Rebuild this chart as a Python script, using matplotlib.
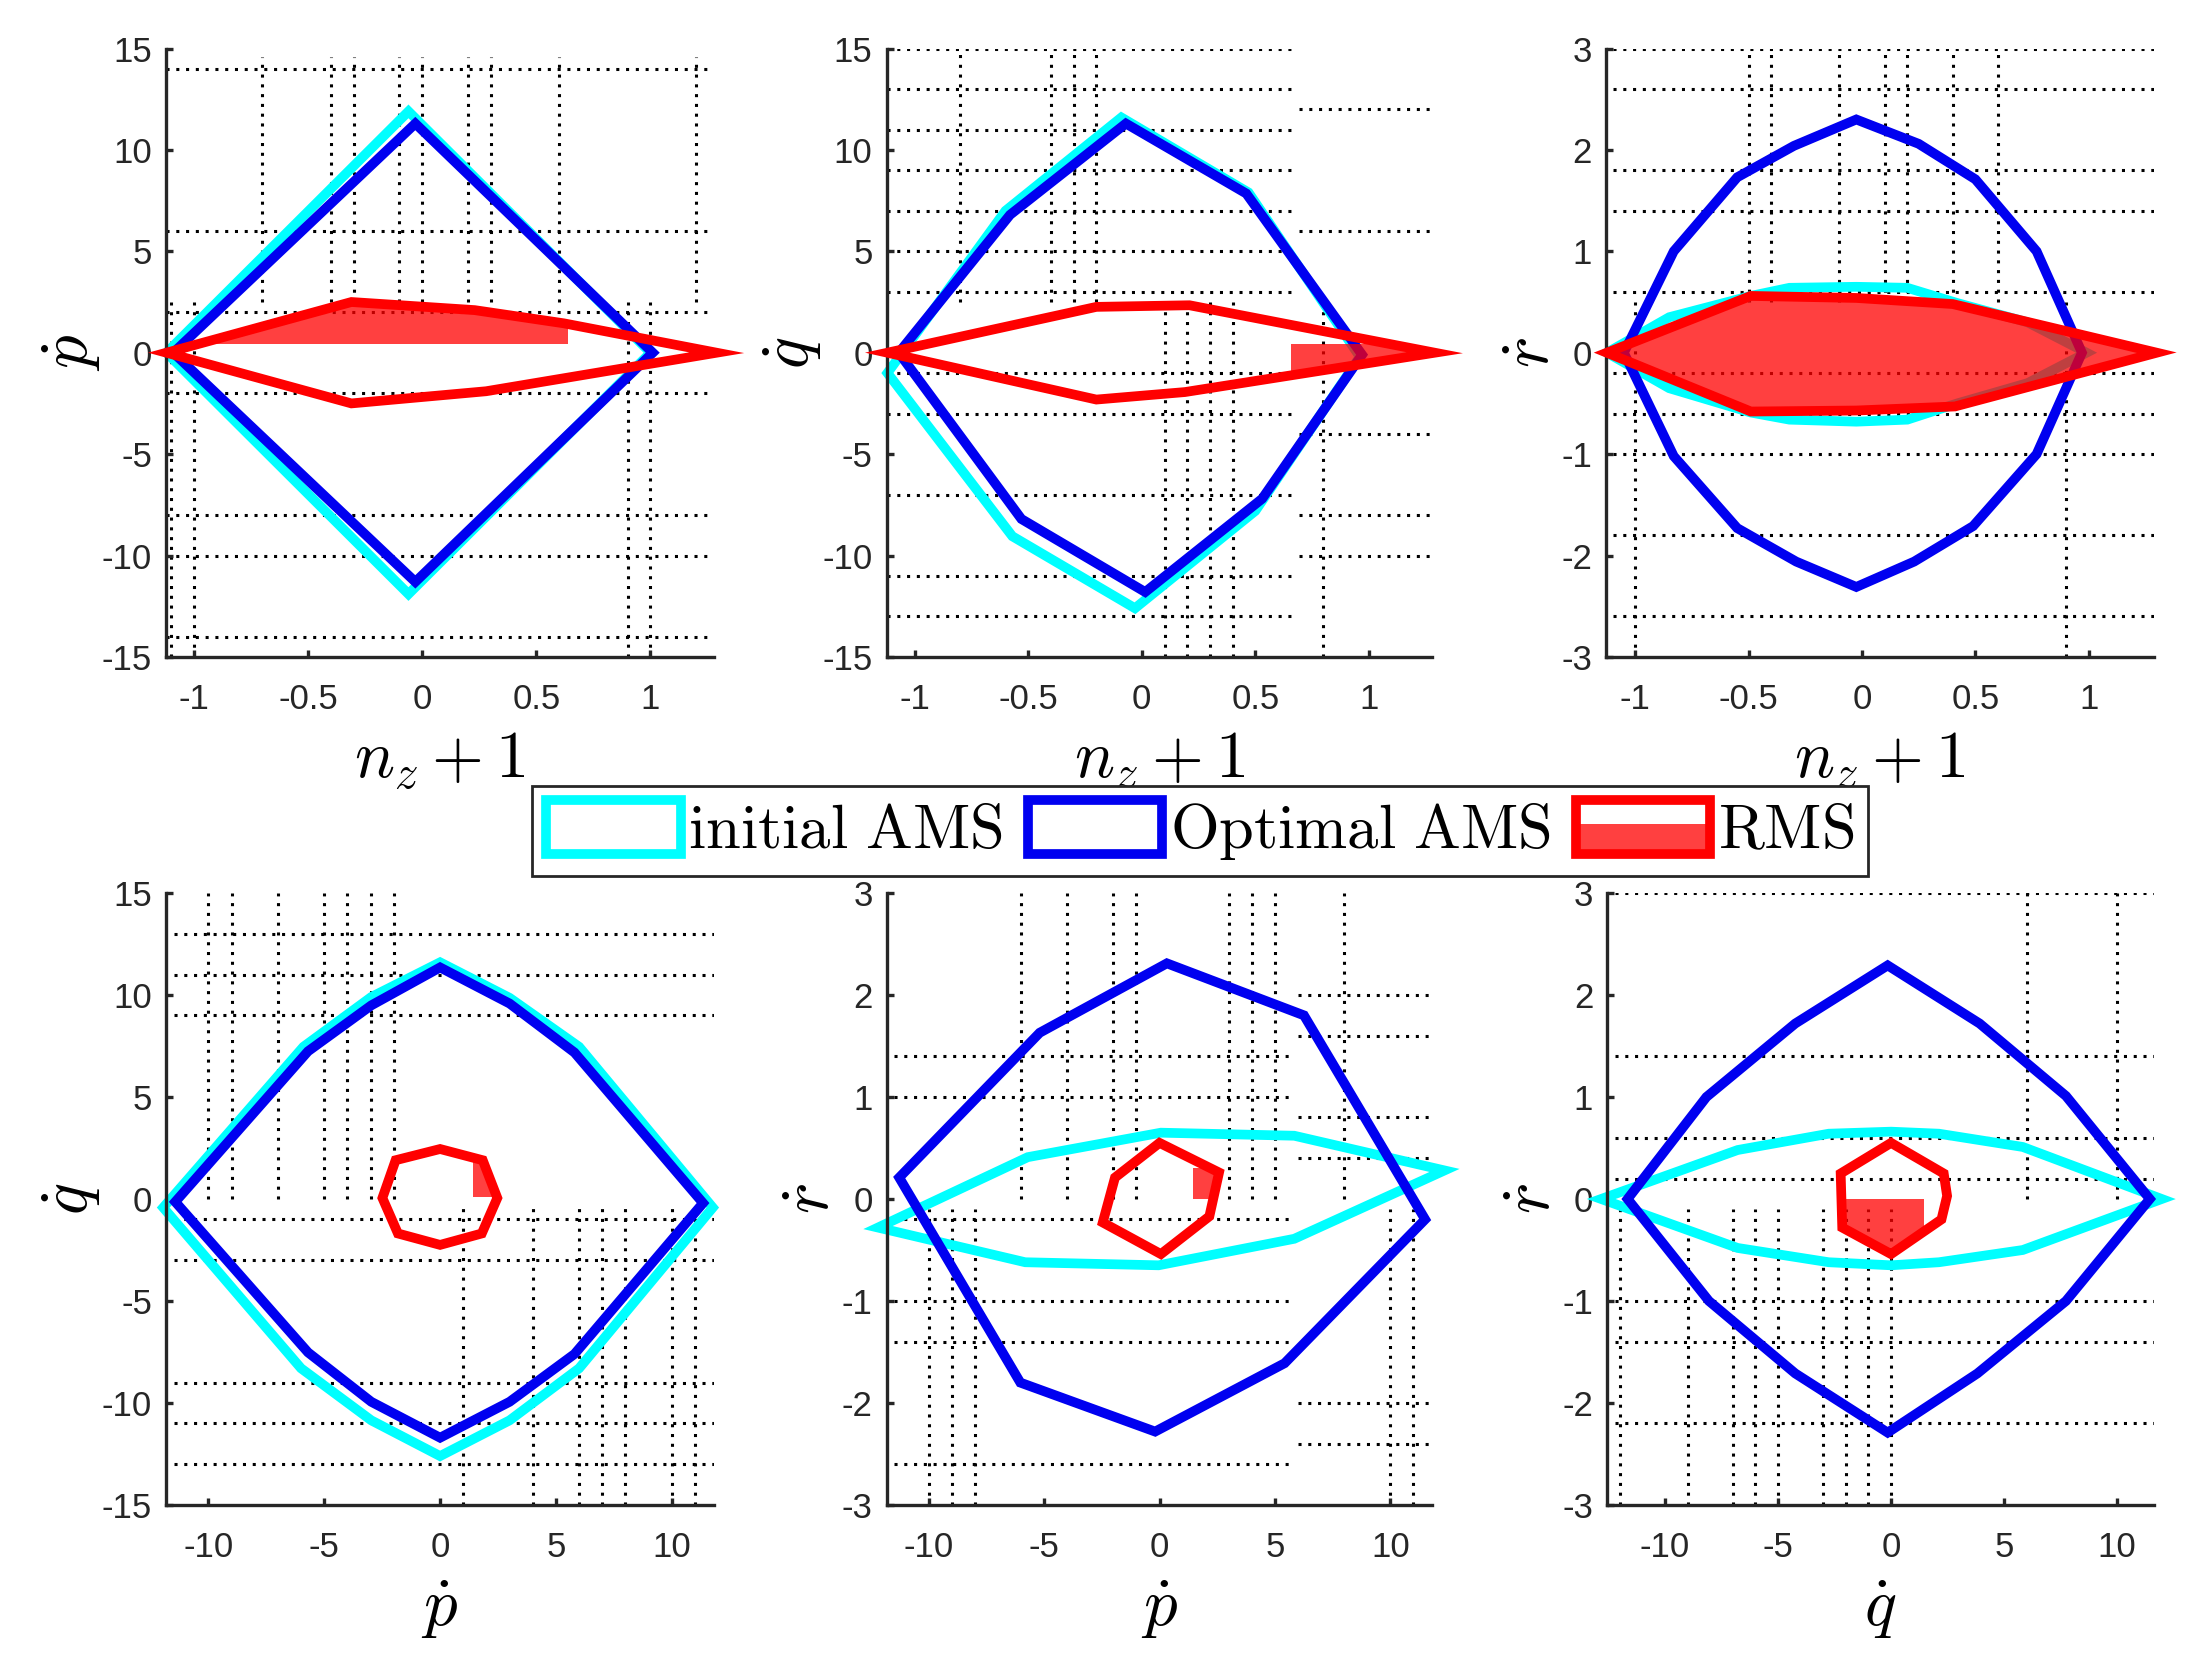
import matplotlib
matplotlib.use('Agg')
import matplotlib.pyplot as plt
import matplotlib.patches as mpatches
from matplotlib.legend_handler import HandlerBase
from matplotlib.ticker import FuncFormatter

plt.rcParams['mathtext.fontset'] = 'cm'
plt.rcParams['font.family'] = ['Liberation Sans', 'DejaVu Sans']
plt.rcParams['axes.unicode_minus'] = False

# ---- data ----
# panel 1: n_z+1 vs p_dot
INIT1_X = [-1.12, -0.06, 1.0, -0.06]
INIT1_Y = [0, 11.9, 0, -11.9]
OPT1_X = [-1.09, -0.03, 1.01, -0.03]
OPT1_Y = [0, 11.3, 0, -11.3]
RMS1_X = [-1.12, -0.31, 0.23, 0.62, 1.29, 0.28, -0.31]
RMS1_Y = [0, 2.5, 2.1, 1.45, 0, -1.9, -2.5]

# panel 2: n_z+1 vs q_dot
INIT2_X = [-1.12, -0.6, -0.09, 0.47, 0.96, 0.5, -0.03, -0.57]
INIT2_Y = [-1.0, 7.0, 11.6, 7.9, -0.2, -7.8, -12.6, -9.05]
OPT2_X = [-1.07, -0.58, -0.07, 0.46, 0.97, 0.53, 0.015, -0.53]
OPT2_Y = [0, 6.8, 11.3, 7.85, -0.1, -7.2, -11.8, -8.2]
RMS2_X = [-1.12, -0.2, 0.21, 1.29, 0.19, -0.2]
RMS2_Y = [0, 2.26, 2.34, 0, -1.94, -2.31]

# panel 3: n_z+1 vs r_dot
INIT3_X = [-1.125, -0.85, -0.49, -0.32, -0.025, 0.2, 0.42, 0.73,
           0.99, 0.73, 0.42, 0.2, -0.025, -0.32, -0.49, -0.85]
INIT3_Y = [0, 0.35, 0.56, 0.64, 0.65, 0.64, 0.49, 0.3,
           0, -0.3, -0.5, -0.66, -0.68, -0.66, -0.59, -0.35]
OPT3_X = [-1.05, -0.83, -0.55, -0.3, -0.025, 0.25, 0.5, 0.77,
          0.97, 0.77, 0.49, 0.23, -0.025, -0.29, -0.55, -0.83]
OPT3_Y = [0, 1.0, 1.73, 2.04, 2.3, 2.06, 1.71, 1.0,
          0, -1.0, -1.71, -2.06, -2.31, -2.06, -1.73, -1.02]
RMS3_X = [-1.125, -0.49, -0.025, 0.4, 1.3, 0.41, -0.025, -0.49]
RMS3_Y = [0, 0.56, 0.54, 0.48, 0, -0.53, -0.57, -0.58]

# panel 4: p_dot vs q_dot
INIT4_X = [-11.95, -5.9, -2.97, 0, 3.0, 6.0, 11.77, 6.0, 3.0, 0, -2.97, -6.0]
INIT4_Y = [-0.42, 7.46, 9.9, 11.6, 9.86, 7.46, -0.42, -8.3, -10.85, -12.6, -10.85, -8.3]
OPT4_X = [-11.43, -5.7, -2.97, 0, 3.0, 5.8, 11.35, 5.8, 3.0, 0, -2.97, -5.7]
OPT4_Y = [-0.14, 7.24, 9.49, 11.35, 9.58, 7.18, -0.2, -7.6, -9.94, -11.7, -9.94, -7.52]
RMS4_X = [0, 1.84, 2.47, 1.8, 0, -1.82, -2.49, -1.92]
RMS4_Y = [2.45, 1.9, 0.05, -1.69, -2.25, -1.69, 0.05, 1.9]

# panel 5: p_dot vs r_dot
INIT5_X = [-12.2, -5.71, 0.06, 5.84, 12.35, 5.84, -0.04, -5.82]
INIT5_Y = [-0.28, 0.41, 0.65, 0.62, 0.28, -0.39, -0.65, -0.62]
OPT5_X = [-11.28, -5.19, 0.32, 6.26, 11.51, 5.42, -0.19, -6.03]
OPT5_Y = [0.21, 1.63, 2.31, 1.8, -0.2, -1.61, -2.28, -1.8]
RMS5_X = [0, 2.58, 2.16, 0.06, -2.46, -1.93]
RMS5_Y = [0.55, 0.26, -0.17, -0.54, -0.23, 0.21]

# panel 6: q_dot vs r_dot
INIT6_X = [-12.83, -6.79, -2.76, 0, 2.12, 5.83, 11.98, 5.83, 2.12, 0, -2.76, -6.79]
INIT6_Y = [0, 0.48, 0.64, 0.66, 0.64, 0.51, 0, -0.5, -0.62, -0.65, -0.62, -0.48]
OPT6_X = [-11.66, -8.17, -4.24, -0.15, 3.92, 7.74, 11.45, 7.74, 3.82, -0.15, -4.24, -8.06]
OPT6_Y = [0, 1.0, 1.72, 2.29, 1.72, 1.01, 0, -1.0, -1.71, -2.29, -1.71, -1.0]
RMS6_X = [0, 2.33, 2.48, 2.23, 0, -2.16, -2.23]
RMS6_Y = [0.55, 0.25, 0.03, -0.2, -0.54, -0.28, 0.25]

# part of each RMS set that is shaded: (x0, x1, y0, y1)
SHADE = [(-1.3, 0.64, 0.43, 3.0), (0.655, 1.4, -1.0, 0.43), (-1.3, 1.4, -1.0, 1.0),
         (1.42, 3.0, 0.1, 3.0), (1.45, 3.0, 0.0, 0.3), (-2.6, 1.45, -0.6, 0.0)]

XLABELS = [r'$n_z+1$', r'$n_z+1$', r'$n_z+1$', r'$\dot{p}$', r'$\dot{p}$', r'$\dot{q}$']
YLABELS = [r'$\dot{p}$', r'$\dot{q}$', r'$\dot{r}$', r'$\dot{q}$', r'$\dot{r}$', r'$\dot{r}$']
XTICKS_NZ = [-1, -0.5, 0, 0.5, 1]
XTICKS_RATE = [-10, -5, 0, 5, 10]
YTICKS_BIG = [-15, -10, -5, 0, 5, 10, 15]
YTICKS_SMALL = [-3, -2, -1, 0, 1, 2, 3]
LEGEND_LABELS = [r'$\mathrm{initial\ AMS}$', r'$\mathrm{Optimal\ AMS}$', r'$\mathrm{RMS}$']

# dotted grid pieces left over by the original renderer: (values, start, end)
GRID_H = [
    [([14, 6, 2, -2, -8, -10, -14], -1.123, 1.278)],
    [([15, 13, 11, 9, 7, 5, 3, -1, -3, -7, -11, -13], -1.124, 0.655),
     ([12, 6, -4, -8, -10], 0.69, 1.277)],
    [([3, 2.6, 1.8, 1.4, 0.6, -0.2, -0.6, -1, -1.8, -2.6], -1.1, 1.287)],
    [([13, 11, 9, -1, -3, -9, -11, -13], -11.5, 11.82)],
    [([1.4, 1, -0.2, -1, -1.4, -2.6], -11.5, 5.7),
     ([2, 1.6, 0.8, 0.4, -2, -2.4], 6.0, 11.8)],
    [([3, 1.4, 0.6, 0.2, -1, -1.4, -2.2], -12.2, 11.63)],
]
GRID_V = [
    [([-0.7, -0.4, -0.3, -0.1, 0, 0.2, 0.3, 0.6, 1.2], 2.5, 14.6),
     ([-1.1, -1, 0.9, 1.0], -15, 2.5)],
    [([-0.8, -0.4, -0.3, -0.2], 2.5, 15),
     ([0.1, 0.2, 0.3, 0.4, 0.8], -15, 2.5)],
    [([-0.5, -0.4, -0.1, 0.1, 0.2, 0.4, 0.6], 0.5, 2.95),
     ([-1, 0.9], -3, 0.5)],
    [([-10, -9, -7, -5, -4, -3, -2], 0, 15),
     ([1, 4, 6, 7, 8, 10, 11], -15, -0.4)],
    [([-6, -4, -2, -1, 3, 4, 5, 8], 0, 3),
     ([-10, -9, -8, 10, 11], -3, -0.1)],
    [([6, 10], 0, 3),
     ([-12, -9, -7, -6, -5, -3, -2, -1, 0], -3, -0.1)],
]

XLIM = [(-1.123, 1.278), (-1.124, 1.277), (-1.129, 1.287),
        (-11.84, 11.82), (-11.83, 11.8), (-12.57, 11.63)]
YLIM = [(-15, 15), (-15, 15), (-3, 3), (-15, 15), (-3, 3), (-3, 3)]

POS = [[0.0757, 0.6045, 0.2503, 0.3663],
       [0.4048, 0.6045, 0.2490, 0.3663],
       [0.7333, 0.6045, 0.2502, 0.3663],
       [0.0757, 0.0939, 0.2503, 0.3685],
       [0.4048, 0.0939, 0.2490, 0.3685],
       [0.7338, 0.0939, 0.2497, 0.3685]]

INIT = [(INIT1_X, INIT1_Y), (INIT2_X, INIT2_Y), (INIT3_X, INIT3_Y),
        (INIT4_X, INIT4_Y), (INIT5_X, INIT5_Y), (INIT6_X, INIT6_Y)]
OPT = [(OPT1_X, OPT1_Y), (OPT2_X, OPT2_Y), (OPT3_X, OPT3_Y),
       (OPT4_X, OPT4_Y), (OPT5_X, OPT5_Y), (OPT6_X, OPT6_Y)]
RMS = [(RMS1_X, RMS1_Y), (RMS2_X, RMS2_Y), (RMS3_X, RMS3_Y),
       (RMS4_X, RMS4_Y), (RMS5_X, RMS5_Y), (RMS6_X, RMS6_Y)]

C_INIT = '#00ffff'
C_OPT = '#0000f0'
C_RMS = '#ff0000'
C_SHADE = '#ff0000'
SHADE_ALPHA = 0.75
LW = 7
AX_COL = '#262626'
GRID_STYLE = dict(colors='k', linestyles=(0, (1, 2.2)), lw=2.2, zorder=1)


class HandlerRMS(HandlerBase):
    # red box, lower part shaded like the patch inside the plots
    def create_artists(self, legend, orig_handle, xdescent, ydescent,
                       width, height, fontsize, trans):
        x0, y0 = -xdescent, -ydescent
        low = mpatches.Rectangle((x0, y0), width, height * 0.55, facecolor=C_SHADE,
                                 alpha=SHADE_ALPHA, edgecolor='none', transform=trans)
        box = mpatches.Rectangle((x0, y0), width, height, facecolor='none',
                                 edgecolor=C_RMS, lw=LW, transform=trans)
        return [low, box]


fig = plt.figure(figsize=(21.9, 16.61), dpi=100)

for i in range(6):
    ax = fig.add_axes(POS[i])
    ax.set_xlim(XLIM[i])
    ax.set_ylim(YLIM[i])

    for vals, a, b in GRID_H[i]:
        ax.hlines(vals, a, b, **GRID_STYLE)
    for vals, a, b in GRID_V[i]:
        ax.vlines(vals, a, b, **GRID_STYLE)

    ax.add_patch(mpatches.Polygon(list(zip(*INIT[i])), closed=True, fill=False,
                                  edgecolor=C_INIT, lw=LW, joinstyle='miter',
                                  zorder=2, clip_on=False))
    ax.add_patch(mpatches.Polygon(list(zip(*OPT[i])), closed=True, fill=False,
                                  edgecolor=C_OPT, lw=LW, joinstyle='miter',
                                  zorder=3, clip_on=False))
    rms = mpatches.Polygon(list(zip(*RMS[i])), closed=True, fill=False,
                           edgecolor=C_RMS, lw=LW, joinstyle='miter',
                           zorder=5, clip_on=False)
    ax.add_patch(rms)
    x0, x1, y0, y1 = SHADE[i]
    shade = mpatches.Rectangle((x0, y0), x1 - x0, y1 - y0, facecolor=C_SHADE,
                               alpha=SHADE_ALPHA, edgecolor='none', zorder=4)
    ax.add_patch(shade)
    shade.set_clip_path(rms)

    ax.set_xticks(XTICKS_NZ if i < 3 else XTICKS_RATE)
    ax.set_yticks(YTICKS_SMALL if YLIM[i][1] == 3 else YTICKS_BIG)
    ax.xaxis.set_major_formatter(FuncFormatter(lambda v, p: '%g' % v))
    ax.yaxis.set_major_formatter(FuncFormatter(lambda v, p: '%g' % v))
    for s in ['top', 'right']:
        ax.spines[s].set_visible(False)
    for s in ['left', 'bottom']:
        ax.spines[s].set_linewidth(2.4)
        ax.spines[s].set_color(AX_COL)
    ax.tick_params(axis='both', direction='in', length=5, width=2.4,
                   colors=AX_COL, labelsize=25)
    ax.tick_params(axis='x', pad=18.5)
    ax.tick_params(axis='y', pad=10)
    ax.set_xlabel(XLABELS[i], fontsize=48, labelpad=10.5)
    ax.set_ylabel(YLABELS[i], fontsize=48, labelpad=-1)

handles = [mpatches.Patch(facecolor='white', edgecolor=C_INIT, lw=LW),
           mpatches.Patch(facecolor='white', edgecolor=C_OPT, lw=LW),
           mpatches.Patch(facecolor='white', edgecolor=C_RMS, lw=LW)]
leg = fig.legend(handles, LEGEND_LABELS, loc='center', bbox_to_anchor=(0.548, 0.4997),
                 ncol=3, fontsize=45, handlelength=2.15, handleheight=0.95,
                 handletextpad=0.12, columnspacing=0.4, borderpad=0.22,
                 borderaxespad=0, fancybox=False, framealpha=1,
                 handler_map={handles[2]: HandlerRMS()})
leg.get_frame().set_edgecolor(AX_COL)
leg.get_frame().set_linewidth(2)

fig.savefig('out.png', dpi=100)
